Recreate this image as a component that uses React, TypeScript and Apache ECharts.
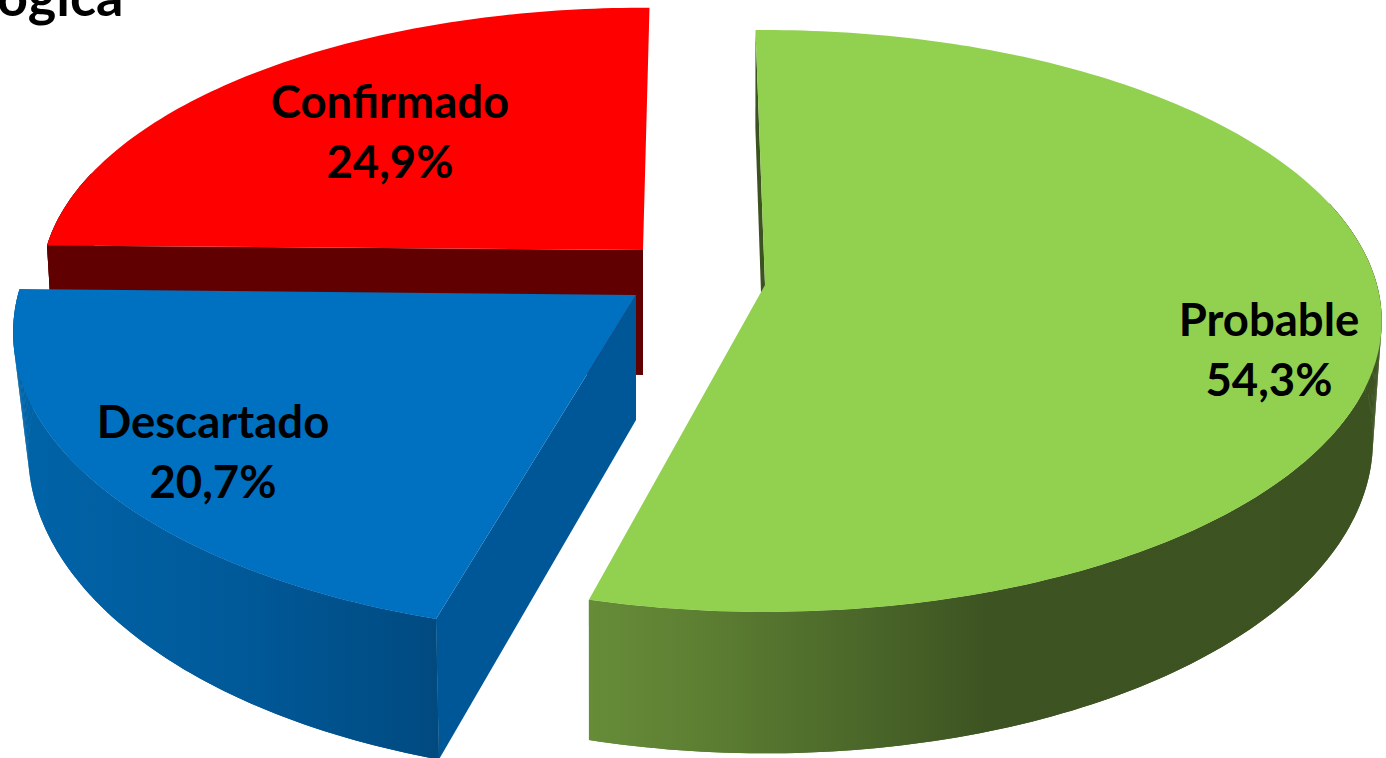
import React, { useEffect, useRef } from "react";
import * as echarts from "echarts";

const categories = ["Probable", "Descartado", "Confirmado"];
const values = [54.3, 20.7, 24.9];
const valueLabels = ["54,3%", "20,7%", "24,9%"];
const titleFragment = "ógica";

const topColors = ["#92d050", "#0070c0", "#ff0000"];
const radialWallColors = ["#3c5220", "#005797", "#600000"];
const rimStops: [number, string][][] = [
  [[0, "#668c38"], [0.15, "#5c7e32"], [0.5, "#3d5422"], [1, "#3c5220"]],
  [[0, "#0064a8"], [0.5, "#005a9a"], [1, "#004a80"]],
  [[0, "#600000"], [1, "#600000"]],
];

// Layout of each exploded slice
const apexX = [765, 636, 643];
const apexY = [285, 295, 250];
const scaleX = [1, 1.01, 0.976];
const scaleY = [1, 1.04, 0.95];
const bottomScale = [1, 0.99, 1];
const angleShift = [0, 1.9, 1.7];
const wallBottomShift = [0, 0.6, 0.6];
const bottomAngleShift = 0.6;
const backCutoff = -0.3;
const startAngle = -1;
const depth = 125;
const topPlane = { rx: 612, ry: 286.5, k: 0.1236 };
const bottomPlane = { rx: 605, ry: 309.7, k: 0.098 };
const labelX = [1269, 213, 390];
const labelY = [318, 420, 100];
const lineGap = 60;
const labelFont = 'bold 45.5px Lato, "Open Sans", sans-serif';
const titleFont = 'bold 54px Lato, "Open Sans", sans-serif';

type Plane = { rx: number; ry: number; k: number };

function project(deg: number, plane: Plane, i: number, dy: number, extra = 1): number[] {
  const t = (deg * Math.PI) / 180;
  const u = Math.sin(t);
  const v = -Math.cos(t);
  const w = 1 - plane.k * v;
  return [
    apexX[i] + (extra * scaleX[i] * plane.rx * u) / w,
    apexY[i] + dy + (scaleY[i] * plane.ry * v) / w,
  ];
}

function angles(a0: number, a1: number): number[] {
  const n = Math.max(2, Math.ceil(Math.abs(a1 - a0)));
  const out: number[] = [];
  for (let s = 0; s <= n; s++) out.push(a0 + ((a1 - a0) * s) / n);
  return out;
}

export default function App() {
  const ref = useRef<HTMLDivElement>(null);
  useEffect(() => {
    document.body.style.margin = "0";
    const chart = echarts.init(ref.current!, undefined, { renderer: "svg" });
    const total = values.reduce((a, b) => a + b, 0);
    const ranges: number[][] = [];
    let acc = 0;
    values.forEach((v, i) => {
      const a0 = startAngle + (acc / total) * 360 + angleShift[i];
      acc += v;
      const a1 = startAngle + (acc / total) * 360 + angleShift[i];
      ranges.push([a0, a1]);
    });
    const order = [2, 1, 0];

    const renderItem = (params: any) => {
      const i = order[params.dataIndex];
      const [a0, a1] = ranges[i];
      const apexTop = [apexX[i], apexY[i]];
      const apexBottom = [apexX[i], apexY[i] + depth];
      const all = angles(a0, a1);
      const topRim = all.map((a) => project(a, topPlane, i, 0));
      // only the part of the rim that faces the viewer gets a wall
      const front = all.filter((a) => -Math.cos((a * Math.PI) / 180) > backCutoff);
      const frontTop = front.map((a) => project(a, topPlane, i, 0));
      const frontBottom = front.map((a) =>
        project(a + bottomAngleShift, bottomPlane, i, depth, bottomScale[i])
      );
      const children: any[] = [];
      // the radial wall seen from the viewer is the one at the slice's start
      children.push({
        type: "polygon",
        shape: {
          points: [
            apexTop,
            project(a0, topPlane, i, 0),
            project(a0 + wallBottomShift[i], bottomPlane, i, depth, bottomScale[i]),
            apexBottom,
          ],
        },
        style: { fill: radialWallColors[i] },
      });
      const xs = [...frontTop, ...frontBottom].map((p) => p[0]);
      const rimFill = {
        type: "linear",
        global: true,
        x: Math.min(...xs),
        y: 0,
        x2: Math.max(...xs),
        y2: 0,
        colorStops: rimStops[i].map(([offset, color]) => ({ offset, color })),
      };
      children.push({
        type: "polygon",
        shape: { points: [...frontTop, ...frontBottom.slice().reverse()] },
        style: { fill: rimFill },
      });
      // one quad per step, so the outline follows the tangents of both rims
      for (let s = 0; s + 1 < frontTop.length; s++) {
        children.push({
          type: "polygon",
          shape: { points: [frontTop[s], frontTop[s + 1], frontBottom[s + 1], frontBottom[s]] },
          style: { fill: rimFill },
        });
      }
      children.push({
        type: "polygon",
        shape: { points: [apexTop, ...topRim] },
        style: { fill: topColors[i] },
      });
      children.push({
        type: "text",
        style: {
          text: categories[i],
          x: labelX[i],
          y: labelY[i],
          align: "center",
          verticalAlign: "middle",
          font: labelFont,
          fill: "#000",
        },
      });
      children.push({
        type: "text",
        style: {
          text: valueLabels[i],
          x: labelX[i],
          y: labelY[i] + lineGap,
          align: "center",
          verticalAlign: "middle",
          font: labelFont,
          fill: "#000",
        },
      });
      return { type: "group", children };
    };

    chart.setOption({
      animation: false,
      backgroundColor: "#ffffff",
      graphic: [
        {
          type: "text",
          x: -3,
          y: 22,
          style: {
            text: titleFragment,
            font: titleFont,
            fill: "#000",
            align: "left",
            verticalAlign: "bottom",
          },
        },
      ],
      series: [
        {
          type: "custom",
          coordinateSystem: "none",
          renderItem,
          data: order.map((i) => [values[i]]),
          silent: true,
        },
      ],
    });
    return () => chart.dispose();
  }, []);
  return (
    <div
      ref={ref}
      style={{ position: "fixed", left: 0, top: 0, width: 1386, height: 758, overflow: "hidden" }}
    />
  );
}
